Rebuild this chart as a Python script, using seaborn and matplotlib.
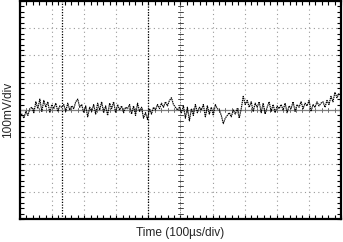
import numpy as np
import pandas as pd
import matplotlib
matplotlib.use("Agg")
import matplotlib.pyplot as plt
import seaborn as sns

# Trace values in divisions (100 mV/div), sampled across 10 time divisions
trace = [
    -0.25, -0.15, -0.3, -0.05, -0.2, 0.05,
    0.1, -0.1, 0.3, 0.05, 0.4, -0.05, 0.35, 0.1, 0.3, -0.1, 0.2, 0.05, 0.25, -0.05, 0.15,
    0.1, 0.2, -0.05, 0.25, 0.0, 0.15, 0.05, 0.3, 0.4, 0.1,
    0.2, -0.1, 0.15, -0.25, 0.1, -0.05, 0.2, -0.15, 0.25, 0.0,
    0.3, -0.1, 0.15, -0.2, 0.25, 0.05, 0.3, -0.1, 0.2, 0.0,
    0.15, -0.1, 0.1, 0.05, 0.2, -0.15, 0.15, -0.2, 0.25, -0.05,
    0.1, -0.3, -0.1, -0.35, 0.05, -0.15, 0.1, 0.0, 0.2, 0.05,
    0.25, 0.1, 0.3, 0.15, 0.35, 0.45, 0.2, 0.1, 0.0, 0.1,
    -0.1, 0.15, -0.3, 0.1, -0.4, 0.05, -0.2, 0.2, -0.1, 0.1,
    0.0, 0.2, -0.25, 0.15, -0.15, 0.1, -0.2, 0.2, 0.05, 0.0,
    -0.2, -0.5, -0.3, -0.2, -0.1, -0.25, 0.0, -0.15, 0.05, -0.3,
    0.05, 0.5, 0.2, 0.35, 0.1, 0.3, -0.05, 0.25, 0.1, 0.3,
    -0.1, 0.25, -0.15, 0.1, 0.3, -0.05, 0.2, -0.1, 0.15, 0.05,
    0.2, 0.0, 0.25, -0.1, 0.15, 0.05, 0.3, -0.05, 0.2, 0.1,
    0.3, 0.05, 0.25, 0.15, 0.35, -0.05, 0.2, 0.1, 0.3, 0.15,
    0.25, 0.3, 0.1, 0.35, 0.2, 0.5, 0.3, 0.65, 0.45, 0.6, 0.55,
]
time_div = np.linspace(0, 10, len(trace))
cursors = [1.3, 4.0]
xlabel = "Time (100\u00b5s/div)"
ylabel = "100mV/div"

df = pd.DataFrame({"t": time_div, "v": trace})

sns.set_style("white")
plt.rcParams["font.family"] = ["Liberation Sans", "DejaVu Sans"]

fig = plt.figure(figsize=(3.43, 2.42), dpi=100)
ax = fig.add_axes([0.058, 0.095, 0.936, 0.901])
ax.set_xlim(0, 10)
ax.set_ylim(-4, 4)

# grid
for gx in range(1, 10):
    if gx != 5:
        ax.axvline(gx, color="#9a9a9a", lw=0.8, ls=(0, (1, 3)), zorder=1)
for gy in range(-3, 4):
    if gy != 0:
        ax.axhline(gy, color="#9a9a9a", lw=0.8, ls=(0, (1, 3)), zorder=1)

# center cross
ax.axhline(0, color="#808080", lw=0.9, zorder=1)
ax.axvline(5, color="#555555", lw=0.6, ls=(0, (1, 1)), zorder=1)
for tx in np.arange(0, 10.01, 0.2):
    ax.plot([tx, tx], [-0.07, 0.07], color="#707070", lw=0.7, zorder=1)
for ty in np.arange(-4, 4.01, 0.2):
    ax.plot([4.93, 5.07], [ty, ty], color="#444444", lw=0.7, zorder=1)

# cursors
for c in cursors:
    ax.axvline(c, color="black", lw=0.9, ls=(0, (1, 1.2)), zorder=2)

sns.lineplot(data=df, x="t", y="v", ax=ax, color="black", lw=0.85,
             linestyle=(0, (1.2, 0.6)), zorder=3)

ax.set_xticks(np.arange(0, 10.01, 0.2))
ax.set_yticks(np.arange(-4, 4.01, 0.2))
ax.tick_params(axis="both", which="both", direction="in", length=3, width=0.8,
               top=True, right=True, bottom=True, left=True,
               labelbottom=False, labelleft=False, colors="black")
for s in ax.spines.values():
    s.set_color("black")
    s.set_linewidth(1.6)

ax.set_xlabel(xlabel, fontsize=8.6, labelpad=6)
ax.set_ylabel(ylabel, fontsize=8.6, labelpad=4)

fig.savefig("out.png", dpi=100)
